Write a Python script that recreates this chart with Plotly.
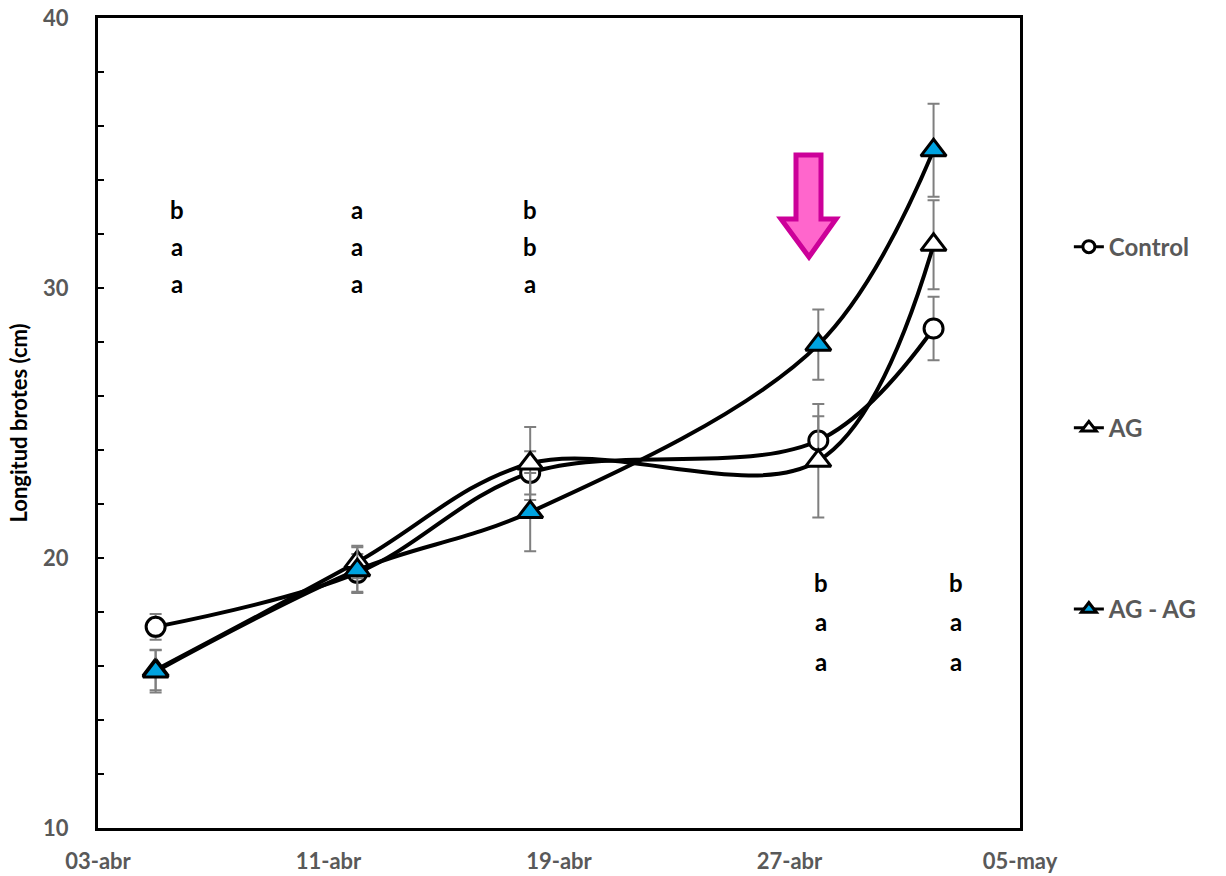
import plotly.graph_objects as go

# Sampling dates and shoot length (cm) per treatment
fechas = ["2019-04-05", "2019-04-12", "2019-04-18", "2019-04-28", "2019-05-02"]
control = [17.45, 19.45, 23.15, 24.35, 28.5]
control_err = [0.48, 0.7, 0.8, 0.9, 1.18]
ag = [15.85, 19.85, 23.5, 23.6, 31.6]
ag_err = [0.75, 0.6, 1.35, 2.1, 1.65]
ag_ag = [15.8, 19.55, 21.7, 27.9, 35.1]
ag_ag_err = [0.78, 0.85, 1.45, 1.3, 1.72]

# Significance letters per date (top-to-bottom)
letras = [["b", "a", "a"], ["a", "a", "a"], ["b", "b", "a"], ["b", "a", "a"], ["b", "a", "a"]]
letras_arriba = [True, True, True, False, False]
letras_dx = [21, 0, 0, 3, 22]
filas_arriba = [32.9, 31.55, 30.15]
filas_abajo = [19.1, 17.65, 16.15]

tick_fechas = ["2019-04-03", "2019-04-11", "2019-04-19", "2019-04-27", "2019-05-05"]
tick_textos = ["03-abr", "11-abr", "19-abr", "27-abr", "05-may"]

GRIS = "#595959"
FUENTE = "Lato"

fig = go.Figure()

series = [
    ("Control", control, control_err, "circle", "white", 19, 12),
    ("AG", ag, ag_err, "triangle-up", "white", 22, 13),
    ("AG - AG", ag_ag, ag_ag_err, "triangle-up", "#00A3E0", 22, 13),
]

for nombre, vals, errs, simbolo, relleno, tam, tam_ley in series:
    fig.add_trace(go.Scatter(
        x=fechas, y=vals, mode="lines+markers", name=nombre, showlegend=False,
        line=dict(color="black", width=4, shape="spline", smoothing=1),
        marker=dict(symbol=simbolo, size=tam, color=relleno,
                    line=dict(color="black", width=3)),
        error_y=dict(type="data", array=errs, visible=True,
                     color="#7f7f7f", thickness=2, width=6),
    ))

# Legend entries with smaller markers
for i, (nombre, vals, errs, simbolo, relleno, tam, tam_ley) in enumerate(series):
    fig.add_trace(go.Scatter(
        x=[None], y=[None], mode="lines+markers", name=nombre,
        legendgroup=f"g{i}",
        line=dict(color="black", width=3),
        marker=dict(symbol=simbolo, size=tam_ley, color=relleno,
                    line=dict(color="black", width=3)),
    ))

# Letters
for fecha, col, arriba, dx in zip(fechas, letras, letras_arriba, letras_dx):
    filas = filas_arriba if arriba else filas_abajo
    for letra, yv in zip(col, filas):
        fig.add_annotation(x=fecha, y=yv, text=f"<b>{letra}</b>", showarrow=False,
                           xshift=dx, font=dict(family=FUENTE, size=24, color="black"))

# Block arrow marking the application date (pixel outline converted to paper coords)
L, R, T, B = 98, 1020, 18, 828
def px(x, y):
    return f"{(x - L) / (R - L):.5f},{(B - y) / (B - T):.5f}"
flecha = [(796, 155), (821, 155), (821, 219), (836, 219), (809, 257), (781, 219), (796, 219)]
path = "M " + " L ".join(px(x, y) for x, y in flecha) + " Z"
fig.add_shape(type="path", xref="paper", yref="paper", path=path,
              fillcolor="#FF66CC", line=dict(color="#CC0099", width=5))

fig.update_layout(
    width=1226, height=876,
    margin=dict(l=L, r=1226 - R, t=T, b=876 - B, autoexpand=False),
    plot_bgcolor="white", paper_bgcolor="white",
    font=dict(family=FUENTE, color=GRIS),
    legend=dict(x=1.053, y=0.745, xanchor="left", yanchor="top",
                font=dict(family=FUENTE, size=24, color=GRIS, weight="bold"),
                tracegroupgap=147, itemsizing="trace", traceorder="grouped",
                bgcolor="rgba(0,0,0,0)"),
    xaxis=dict(
        type="date", range=["2019-04-03", "2019-05-05"], automargin=False,
        tickvals=tick_fechas, ticktext=tick_textos,
        tickfont=dict(family=FUENTE, size=22, color=GRIS, weight="bold"),
        showgrid=False, zeroline=False, showline=True, linecolor="black",
        linewidth=3, mirror=True, ticks="", ticklabelstandoff=12,
    ),
    yaxis=dict(
        range=[10, 40], tickvals=[10, 20, 30, 40], automargin=False,
        tickfont=dict(family=FUENTE, size=22, color=GRIS, weight="bold"),
        showgrid=False, zeroline=False, showline=True, linecolor="black",
        linewidth=3, mirror=True, ticks="inside", ticklen=6, tickwidth=2,
        tickcolor="black", ticklabelstandoff=22,
        minor=dict(dtick=2, ticks="inside", ticklen=6, tickwidth=2, tickcolor="black"),
        title=dict(text="<b>Longitud brotes (cm)</b>",
                   font=dict(family=FUENTE, size=22, color="black"), standoff=10),
    ),
)

fig.write_html("out.html")
